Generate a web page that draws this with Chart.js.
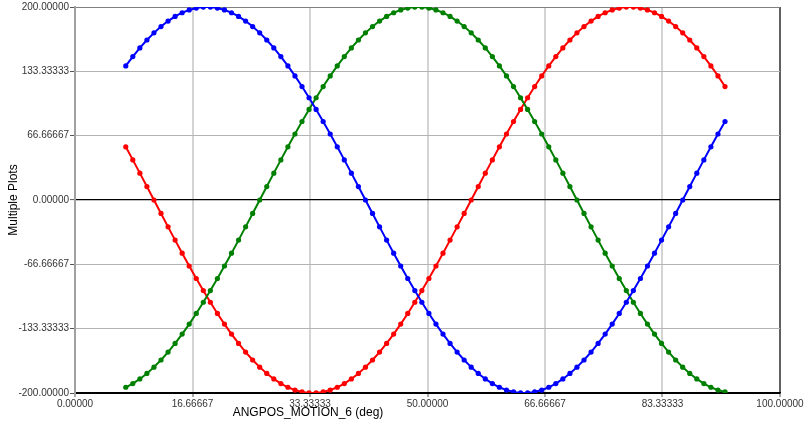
<!DOCTYPE html>
<html>
<head>
<meta charset="utf-8">
<title>Multiple Plots</title>
<script src="https://cdn.jsdelivr.net/npm/chart.js@4/dist/chart.umd.min.js"></script>
<style>
  html, body { margin: 0; padding: 0; background: #fff; }
  #chart { display: block; }
</style>
</head>
<body>
<canvas id="chart" width="805" height="422"></canvas>
<script>
/* Multiple Plots vs ANGPOS_MOTION_6 — three phase curves */

const ANGPOS = [
    7.2, 8.2, 9.2, 10.2, 11.2, 12.2, 13.2, 14.2, 15.2, 16.2,
    17.2, 18.2, 19.2, 20.2, 21.2, 22.2, 23.2, 24.2, 25.2, 26.2,
    27.2, 28.2, 29.2, 30.2, 31.2, 32.2, 33.2, 34.2, 35.2, 36.2,
    37.2, 38.2, 39.2, 40.2, 41.2, 42.2, 43.2, 44.2, 45.2, 46.2,
    47.2, 48.2, 49.2, 50.2, 51.2, 52.2, 53.2, 54.2, 55.2, 56.2,
    57.2, 58.2, 59.2, 60.2, 61.2, 62.2, 63.2, 64.2, 65.2, 66.2,
    67.2, 68.2, 69.2, 70.2, 71.2, 72.2, 73.2, 74.2, 75.2, 76.2,
    77.2, 78.2, 79.2, 80.2, 81.2, 82.2, 83.2, 84.2, 85.2, 86.2,
    87.2, 88.2, 89.2, 90.2, 91.2, 92.2
];

const BLUE_VALUES = [
    138.93, 148.63, 157.60, 165.81, 173.21, 179.76, 185.44, 190.21, 194.06, 196.96,
    198.90, 199.88, 199.88, 198.90, 196.96, 194.06, 190.21, 185.44, 179.76, 173.21,
    165.81, 157.60, 148.63, 138.93, 128.56, 117.56, 105.98, 93.89, 81.35, 68.40,
    55.13, 41.58, 27.83, 13.95, 0, -13.95, -27.83, -41.58, -55.13, -68.40,
    -81.35, -93.89, -105.98, -117.56, -128.56, -138.93, -148.63, -157.60, -165.81, -173.21,
    -179.76, -185.44, -190.21, -194.06, -196.96, -198.90, -199.88, -199.88, -198.90, -196.96,
    -194.06, -190.21, -185.44, -179.76, -173.21, -165.81, -157.60, -148.63, -138.93, -128.56,
    -117.56, -105.98, -93.89, -81.35, -68.40, -55.13, -41.58, -27.83, -13.95, 0,
    13.95, 27.83, 41.58, 55.13, 68.40, 81.35
];

const GREEN_VALUES = [
    -194.06, -190.21, -185.44, -179.76, -173.21, -165.81, -157.60, -148.63, -138.93, -128.56,
    -117.56, -105.98, -93.89, -81.35, -68.40, -55.13, -41.58, -27.83, -13.95, 0,
    13.95, 27.83, 41.58, 55.13, 68.40, 81.35, 93.89, 105.98, 117.56, 128.56,
    138.93, 148.63, 157.60, 165.81, 173.21, 179.76, 185.44, 190.21, 194.06, 196.96,
    198.90, 199.88, 199.88, 198.90, 196.96, 194.06, 190.21, 185.44, 179.76, 173.21,
    165.81, 157.60, 148.63, 138.93, 128.56, 117.56, 105.98, 93.89, 81.35, 68.40,
    55.13, 41.58, 27.83, 13.95, 0, -13.95, -27.83, -41.58, -55.13, -68.40,
    -81.35, -93.89, -105.98, -117.56, -128.56, -138.93, -148.63, -157.60, -165.81, -173.21,
    -179.76, -185.44, -190.21, -194.06, -196.96, -198.90
];

const RED_VALUES = [
    55.13, 41.58, 27.83, 13.95, 0, -13.95, -27.83, -41.58, -55.13, -68.40,
    -81.35, -93.89, -105.98, -117.56, -128.56, -138.93, -148.63, -157.60, -165.81, -173.21,
    -179.76, -185.44, -190.21, -194.06, -196.96, -198.90, -199.88, -199.88, -198.90, -196.96,
    -194.06, -190.21, -185.44, -179.76, -173.21, -165.81, -157.60, -148.63, -138.93, -128.56,
    -117.56, -105.98, -93.89, -81.35, -68.40, -55.13, -41.58, -27.83, -13.95, 0,
    13.95, 27.83, 41.58, 55.13, 68.40, 81.35, 93.89, 105.98, 117.56, 128.56,
    138.93, 148.63, 157.60, 165.81, 173.21, 179.76, 185.44, 190.21, 194.06, 196.96,
    198.90, 199.88, 199.88, 198.90, 196.96, 194.06, 190.21, 185.44, 179.76, 173.21,
    165.81, 157.60, 148.63, 138.93, 128.56, 117.56
];

const X_TICKS = [0, 16.66667, 33.33333, 50, 66.66667, 83.33333, 100];
const X_TICK_LABELS = ['0.00000', '16.66667', '33.33333', '50.00000', '66.66667', '83.33333', '100.00000'];
const Y_TICKS = [-200, -133.33333, -66.66667, 0, 66.66667, 133.33333, 200];
const Y_TICK_LABELS = ['-200.00000', '-133.33333', '-66.66667', '0.00000', '66.66667', '133.33333', '200.00000'];

const X_TITLE = 'ANGPOS_MOTION_6 (deg)';
const Y_TITLE = 'Multiple Plots';

const TICK_FONT = { family: 'Liberation Sans, Arial, sans-serif', size: 10 };

function series(values, color) {
    return {
        data: values.map((v, i) => ({ x: ANGPOS[i], y: v })),
        borderColor: color,
        backgroundColor: color,
        pointBackgroundColor: color,
        pointBorderWidth: 0,
        pointRadius: 2.6,
        borderWidth: 2,
        tension: 0,
    };
}

// x-axis title sits left of centre in the original, so draw it by hand
const xTitlePlugin = {
    id: 'xTitle',
    afterDraw(chart) {
        const ctx = chart.ctx;
        ctx.save();
        ctx.font = '12px "Liberation Sans", Arial, sans-serif';
        ctx.fillStyle = '#000';
        ctx.textAlign = 'center';
        ctx.textBaseline = 'middle';
        ctx.fillText(X_TITLE, 308, 413);
        ctx.restore();
    },
};

new Chart(document.getElementById('chart').getContext('2d'), {
    type: 'line',
    data: {
        datasets: [
            series(BLUE_VALUES, '#0000ff'),
            series(GREEN_VALUES, '#008000'),
            series(RED_VALUES, '#ff0000'),
        ],
    },
    options: {
        responsive: false,
        animation: false,
        layout: { padding: { left: 0, top: 4, right: 25, bottom: 0 } },
        plugins: { legend: { display: false }, tooltip: { enabled: false } },
        scales: {
            x: {
                type: 'linear',
                min: 0,
                max: 100,
                afterBuildTicks: axis => { axis.ticks = X_TICKS.map(v => ({ value: v })); },
                afterFit: axis => { axis.height = 29; },
                ticks: {
                    autoSkip: false,
                    maxRotation: 0,
                    padding: 1,
                    color: '#333',
                    font: TICK_FONT,
                    callback: (v, i) => X_TICK_LABELS[i],
                },
                grid: {
                    tickLength: 4,
                    lineWidth: 2,
                    color: ctx => ctx.index === 0 ? '#a0a0a0' : (ctx.index === X_TICKS.length - 1 ? '#606060' : '#d4d4d4'),
                    tickColor: '#555',
                    tickWidth: 1,
                },
                border: { color: '#000', width: 1.5 },
            },
            y: {
                type: 'linear',
                min: -200,
                max: 200,
                afterBuildTicks: axis => { axis.ticks = Y_TICKS.map(v => ({ value: v })); },
                afterFit: axis => { axis.width = 75; },
                ticks: {
                    autoSkip: false,
                    padding: 1,
                    color: '#333',
                    font: TICK_FONT,
                    callback: (v, i) => Y_TICK_LABELS[i],
                },
                title: {
                    display: true,
                    text: Y_TITLE,
                    color: '#000',
                    font: { family: 'Liberation Sans, Arial, sans-serif', size: 12 },
                    padding: { top: 6, bottom: 0 },
                },
                grid: {
                    tickLength: 5,
                    lineWidth: ctx => ctx.tick && ctx.tick.value === 0 ? 1.2 : 1,
                    color: ctx => {
                        const v = ctx.tick && ctx.tick.value;
                        if (v === 0 || v === -200) return '#000';
                        if (v === 200) return '#808080';
                        return '#b4b4b4';
                    },
                    tickColor: '#555',
                    tickWidth: 1,
                },
                border: { color: '#a0a0a0', width: 2 },
            },
        },
    },
    plugins: [xTitlePlugin],
});
</script>
</body>
</html>
